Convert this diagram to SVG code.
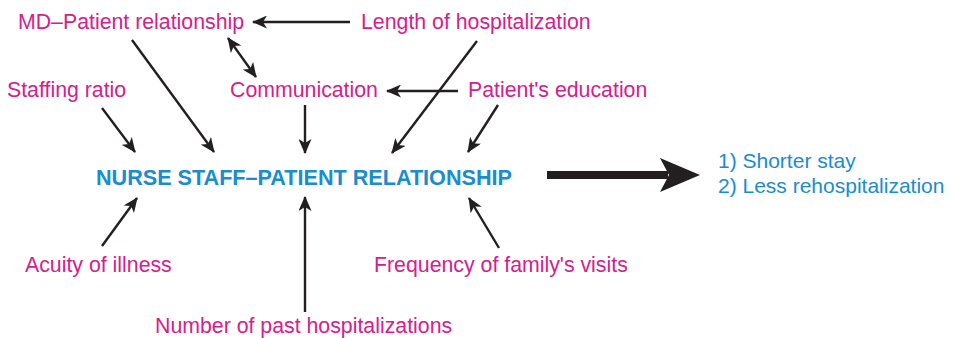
<svg xmlns="http://www.w3.org/2000/svg" width="957" height="338" viewBox="0 0 957 338">
<style>
.lbl{font-family:"Liberation Sans",Arial,Helvetica,sans-serif;font-size:21.3px;fill:#d4208e}
.main{font-family:"Liberation Sans",Arial,Helvetica,sans-serif;font-size:21.6px;font-weight:bold;fill:#1a8ccf}
.out{font-family:"Liberation Sans",Arial,Helvetica,sans-serif;font-size:21px;fill:#1a8ccf}
.con{stroke:#231f20;stroke-width:2.4;fill:none;marker-end:url(#ah)}
</style>
<defs>
<marker id="ah" viewBox="0 0 15 13" markerWidth="15" markerHeight="13" refX="14" refY="6.5" orient="auto-start-reverse" markerUnits="userSpaceOnUse">
<path d="M0,0 L15,6.5 L0,13 L4,6.5 Z" fill="#231f20"/>
</marker>
</defs>
<g id="connectors">
<line class="con" x1="350" y1="22" x2="253" y2="22"/>
<line class="con" x1="228" y1="38" x2="256" y2="77" style="marker-start:url(#ah)"/>
<line class="con" x1="132" y1="40" x2="214" y2="152"/>
<line class="con" x1="102" y1="108" x2="135" y2="152"/>
<line class="con" x1="305" y1="105" x2="305" y2="153"/>
<line class="con" x1="458" y1="91" x2="387" y2="91"/>
<line class="con" x1="477" y1="41" x2="392" y2="153"/>
<line class="con" x1="498" y1="105" x2="468" y2="152"/>
<line class="con" x1="102" y1="246" x2="137" y2="198"/>
<line class="con" x1="305" y1="312" x2="305" y2="197"/>
<line class="con" x1="499" y1="248" x2="469" y2="198"/>
<g id="big-arrow">
<line x1="547" y1="175" x2="668" y2="175" stroke="#231f20" stroke-width="8"/>
<polygon points="660,158 700,175 660,192 669,175" fill="#231f20"/>
</g>
</g>
<g id="md"><text class="lbl" x="18" y="29">MD–Patient relationship</text></g>
<g id="length"><text class="lbl" x="361" y="29">Length of hospitalization</text></g>
<g id="staffing"><text class="lbl" x="7" y="97">Staffing ratio</text></g>
<g id="communication"><text class="lbl" x="230" y="97">Communication</text></g>
<g id="education"><text class="lbl" x="468" y="97">Patient's education</text></g>
<g id="nurse"><text class="main" x="96" y="185">NURSE STAFF–PATIENT RELATIONSHIP</text></g>
<g id="outcome"><text class="out" x="718" y="168">1) Shorter stay</text><text class="out" x="718" y="193">2) Less rehospitalization</text></g>
<g id="acuity"><text class="lbl" x="25" y="272">Acuity of illness</text></g>
<g id="frequency"><text class="lbl" x="374" y="272">Frequency of family's visits</text></g>
<g id="number"><text class="lbl" x="155" y="333">Number of past hospitalizations</text></g>
</svg>
